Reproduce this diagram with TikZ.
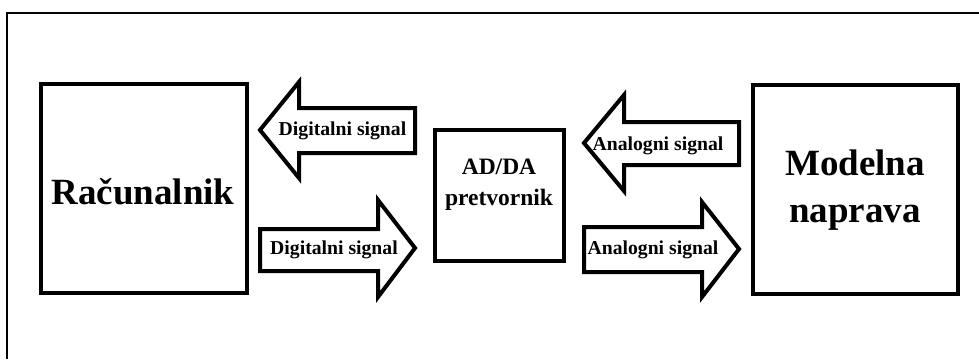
\documentclass[tikz,border=0pt]{standalone}
\usepackage{fontspec}
\setmainfont{Liberation Serif}
\begin{document}
\begin{tikzpicture}[x=1bp,y=-1bp,
  box/.style={draw=black,line width=4bp,fill=white,inner sep=0pt},
  blockarrow/.style={draw=black,line width=4bp,fill=white,line join=miter},
  bigtext/.style={font=\fontsize{37bp}{40bp}\selectfont\bfseries,inner sep=0pt,anchor=base},
  midtext/.style={font=\fontsize{23.5bp}{26bp}\selectfont\bfseries,inner sep=0pt,anchor=base},
  sigtext/.style={font=\fontsize{19.7bp}{22bp}\selectfont\bfseries,inner sep=0pt,anchor=base},
  frame/.style={draw=black,line width=2bp}]
\useasboundingbox (0,0) rectangle (979,359);
\fill[white] (0,0) rectangle (979,359);
\draw[frame] (7,359) -- (7,13) -- (979,13);

% boxes
\node[box,minimum width=206bp,minimum height=209bp] (rac) at (144,188.5) {};
\node[box,minimum width=129bp,minimum height=131bp] (adda) at (499.5,195.5) {};
\node[box,minimum width=205bp,minimum height=209bp] (model) at (855.5,189.5) {};

\node[bigtext] (ractext) at (143,204) {Računalnik};
\node[midtext] (addat1) at (499,174) {AD/DA};
\node[midtext] (addat2) at (499,205) {pretvornik};
\node[bigtext] (modt1) at (855,175) {Modelna};
\node[bigtext] (modt2) at (855,222) {naprava};

% block arrows
\draw[blockarrow] (415,108) -- (299,108) -- (299,82) -- (260,130) -- (299,178) -- (299,153) -- (415,153) -- cycle;
\draw[blockarrow] (260,229) -- (378,229) -- (378,200) -- (415,248) -- (378,297) -- (378,271) -- (260,271) -- cycle;
\draw[blockarrow] (739,122) -- (624,122) -- (624,95) -- (584,143) -- (624,191) -- (624,165) -- (739,165) -- cycle;
\draw[blockarrow] (584,227) -- (702,227) -- (702,202) -- (739,249) -- (702,297) -- (702,272) -- (584,272) -- cycle;

\node[sigtext] (d1) at (342.5,135) {Digitalni signal};
\node[sigtext] (d2) at (334,254) {Digitalni signal};
\node[sigtext] (a1) at (658,150) {Analogni signal};
\node[sigtext] (a2) at (653,254) {Analogni signal};
\end{tikzpicture}
\end{document}
